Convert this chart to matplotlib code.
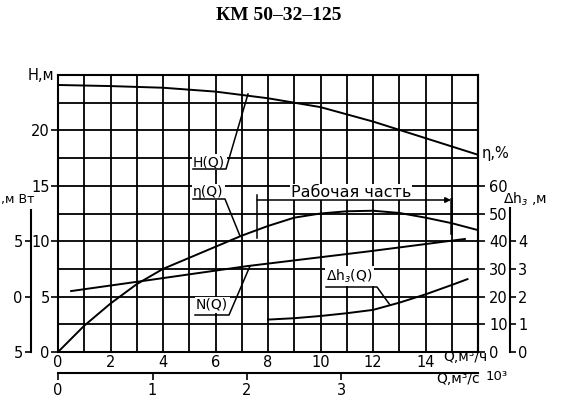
import numpy as np
import matplotlib
matplotlib.use("Agg")
import matplotlib.pyplot as plt

plt.rcParams['font.family'] = ['DejaVu Sans']

# ---- data ----
title = "КМ 50–32–125"
Q_H = [0, 2, 4, 6, 8, 10, 12, 14, 16]
H = [24.1, 24.0, 23.85, 23.5, 22.9, 22.1, 20.8, 19.3, 17.8]

Q_eta = [0, 1, 2, 3, 4, 5, 6, 7, 8, 9, 10, 11, 12, 13, 14, 15, 16]
eta = [0, 9.5, 17.5, 24.5, 30, 34, 38, 42, 45.5, 48.5, 50, 50.8, 51, 50.2, 48.5, 46.5, 44]

Q_N = [0.5, 3.2, 7.2, 11.9, 15.5]
N = [2.05, 2.14, 2.275, 2.41, 2.52]  # kW

Q_dh = [8, 9, 10, 11, 12, 13, 14, 15, 15.6]
dh = [1.17, 1.22, 1.3, 1.4, 1.52, 1.78, 2.08, 2.42, 2.63]

q_ticks = [0, 2, 4, 6, 8, 10, 12, 14]
h_ticks = [0, 5, 10, 15, 20]
eta_ticks = [0, 10, 20, 30, 40, 50, 60]
dh_ticks = [0, 1, 2, 3, 4]
n_ticks = [1.5, 2.0, 2.5]
n_ticklabels = ["5", "0", "5"]
qs_ticks = [0, 1, 2, 3]

W, Hpx = 567, 398
fig = plt.figure(figsize=(W / 100, Hpx / 100), dpi=100)

def fx(px):
    return px / W

def fy(py):
    return 1 - py / Hpx

L, R, T, B = 58, 478, 75, 352
ax = fig.add_axes([fx(L), fy(B), (R - L) / W, (B - T) / Hpx])
ax.set_xlim(0, 16)
ax.set_ylim(0, 25)

lw_grid = 1.3
ax.set_xticks(np.arange(0, 17, 1), minor=True)
ax.set_xticks(q_ticks)
ax.set_xticklabels([str(t) for t in q_ticks])
ax.set_yticks(np.arange(0, 25.1, 2.5), minor=True)
ax.set_yticks(h_ticks)
ax.set_yticklabels([str(t) for t in h_ticks])
ax.grid(True, which='both', color='black', lw=lw_grid)
ax.set_axisbelow(True)
ax.tick_params(axis='x', which='both', length=0, pad=2, labelsize=10.5)
ax.tick_params(axis='y', which='major', length=5, width=1.2, pad=1, labelsize=10.5)
ax.tick_params(axis='y', which='minor', length=0)
for s in ax.spines.values():
    s.set_linewidth(1.5)

# curves
ax.plot(Q_H, H, color='black', lw=1.4)

# eta axis
axr = ax.twinx()
axr.set_ylim(0, 100)
axr.set_yticks(eta_ticks)
axr.set_yticklabels([str(t) for t in eta_ticks])
axr.tick_params(axis='y', length=5, width=1.2, pad=3, labelsize=10.5)
for k in ['left', 'top', 'bottom']:
    axr.spines[k].set_visible(False)
axr.spines['right'].set_linewidth(1.5)
axr.plot(Q_eta, eta, color='black', lw=1.4)

# dh axis
axd = ax.twinx()
axd.set_ylim(0, 10)
for k in ['left', 'top', 'bottom']:
    axd.spines[k].set_visible(False)
axd.spines['right'].set_position(('axes', (510 - L) / (R - L)))
axd.spines['right'].set_bounds(0, 5.2)
axd.spines['right'].set_linewidth(1.5)
axd.set_yticks(dh_ticks)
axd.set_yticklabels([str(t) for t in dh_ticks])
axd.tick_params(axis='y', length=4, width=1.2, pad=2, labelsize=10.5)
axd.plot(Q_dh, dh, color='black', lw=1.4)

# N axis
axn = ax.twinx()
axn.set_ylim(1.5, 4.0)
for k in ['right', 'top', 'bottom']:
    axn.spines[k].set_visible(False)
axn.spines['left'].set_visible(True)
axn.spines['left'].set_position(('axes', (31 - L) / (R - L)))
axn.spines['left'].set_bounds(1.5, 2.78)
axn.spines['left'].set_linewidth(1.5)
axn.yaxis.set_ticks_position('left')
axn.yaxis.set_label_position('left')
axn.set_yticks(n_ticks)
axn.set_yticklabels(n_ticklabels)
axn.tick_params(axis='y', length=4, width=1.2, pad=2, labelsize=10.5)
axn.plot(Q_N, N, color='black', lw=1.4)

# lower Q axis (m3/s x 10^3)
axq = fig.add_axes([fx(L), fy(373), (R - L) / W, 0.0001])
axq.set_xlim(0, 16 / 3.6)
axq.set_ylim(0, 1)
for k in ['left', 'right', 'top']:
    axq.spines[k].set_visible(False)
axq.spines['bottom'].set_linewidth(1.5)
axq.set_yticks([])
axq.set_xticks(qs_ticks)
axq.set_xticklabels([str(t) for t in qs_ticks])
axq.tick_params(axis='x', length=5, width=1.2, pad=2, labelsize=10.5)
axq.patch.set_visible(False)

# annotations (in H-axis coordinates)
def px2d(x, y):
    return (x - L) / (R - L) * 16, (B - y) / (B - T) * 25

bg = dict(fc='white', ec='none', pad=1.0)

def leader(text, tx, ty, ux0, ux1, uy, ex, ey):
    p = px2d(tx, ty)
    ax.text(p[0], p[1], text, fontsize=10, ha='left', va='center', bbox=bg, zorder=3)
    a = px2d(ux0, uy)
    b = px2d(ux1, uy)
    e = px2d(ex, ey)
    ax.plot([a[0], b[0], e[0]], [a[1], b[1], e[1]], color='black', lw=1.1, zorder=4)

leader("H(Q)", 193, 162, 193, 226, 169, 248, 94)
leader("η(Q)", 193, 192, 193, 225, 199, 240, 236)
leader("N(Q)", 196, 305, 195, 229, 315, 250, 266)
leader("Δh$_з$(Q)", 326, 276, 326, 377, 287, 390, 305)

# working range
p = px2d(351, 192)
ax.text(p[0], p[1], "Рабочая часть", fontsize=11.5, ha='center', va='center',
        bbox=dict(fc='white', ec='none', pad=0.5), zorder=3)
xa, ya = px2d(257, 200)
xb, _ = px2d(451, 200)
_, ytop = px2d(0, 195)
_, ybot_l = px2d(0, 238)
_, ybot_r = px2d(0, 233)
ax.plot([xa, xa], [ytop, ybot_l], color='black', lw=1.1, zorder=4)
ax.plot([xb, xb], [ya + 0.1, ybot_r], color='black', lw=1.8, zorder=4)
ax.annotate("", xy=(xb, ya), xytext=(xa, ya),
            arrowprops=dict(arrowstyle='-|>', color='black', lw=1.1,
                            mutation_scale=8, shrinkA=0, shrinkB=0), zorder=4)

# axis labels
fig.text(fx(28), fy(75), "H,м", fontsize=10.5, ha='left', va='center')
fig.text(fx(482), fy(153), "η,%", fontsize=10.5, ha='left', va='center')
fig.text(fx(503), fy(199), "Δh$_з$ ,м", fontsize=10, ha='left', va='center')
fig.text(fx(1), fy(199), ",м Вт", fontsize=9, ha='left', va='center')
fig.text(fx(443), fy(357), "Q,м³/ч", fontsize=10, ha='left', va='center')
fig.text(fx(436), fy(379), "Q,м³/с", fontsize=10, ha='left', va='center')
fig.text(fx(486), fy(377), "10³", fontsize=9.5, ha='left', va='center')

fig.text(fx(279), fy(15), title, fontsize=14, fontweight='bold',
         family='Liberation Serif', ha='center', va='center')

fig.savefig("out.png", dpi=100)
